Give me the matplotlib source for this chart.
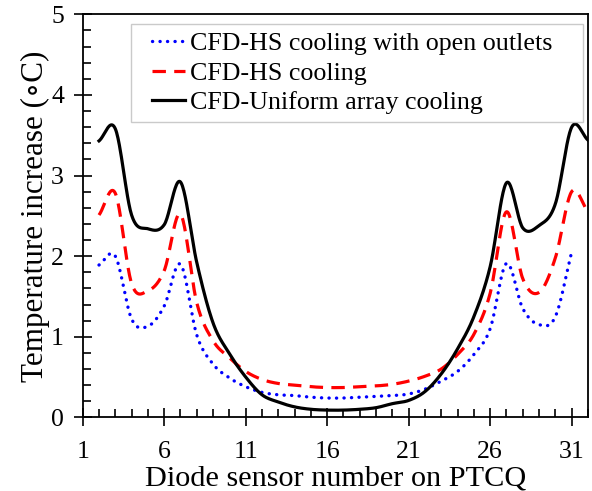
import numpy as np
import matplotlib
matplotlib.use("Agg")
import matplotlib.pyplot as plt
from matplotlib.ticker import MultipleLocator, FixedLocator
from matplotlib.lines import Line2D
from matplotlib.legend_handler import HandlerLine2D

# ---------------- data ----------------
sensors_black = list(range(2, 33))
uniform_cooling = [3.43, 3.58, 2.51, 2.34, 2.39, 2.92, 1.92, 1.17, 0.79, 0.50,
                   0.28, 0.19, 0.13, 0.10, 0.09, 0.09, 0.10, 0.12, 0.17, 0.21,
                   0.32, 0.54, 0.85, 1.25, 1.87, 2.91, 2.35, 2.38, 2.65, 3.60,
                   3.44]

sensors_red = list(range(2, 33))
hs_cooling = [2.51, 2.78, 1.66, 1.57, 1.82, 2.52, 1.42, 0.95, 0.74, 0.57,
              0.47, 0.42, 0.40, 0.38, 0.37, 0.37, 0.38, 0.39, 0.41, 0.45,
              0.51, 0.60, 0.78, 1.03, 1.54, 2.55, 1.72, 1.55, 1.98, 2.80,
              2.55]

sensors_blue = list(range(2, 32))
hs_open_outlets = [1.89, 2.00, 1.22, 1.13, 1.38, 1.90, 1.02, 0.66, 0.49, 0.38,
                   0.31, 0.28, 0.27, 0.25, 0.24, 0.24, 0.25, 0.26, 0.27, 0.29,
                   0.35, 0.45, 0.57, 0.78, 1.10, 1.91, 1.35, 1.15, 1.25, 2.05]

labels = ["CFD-HS cooling with open outlets", "CFD-HS cooling",
          "CFD-Uniform array cooling"]
x_ticks = [1, 6, 11, 16, 21, 26, 31]
y_ticks = [0, 1, 2, 3, 4, 5]


def smooth(x, y, n=24):
    """Excel-like smoothed line (Catmull-Rom through the data points)."""
    x = np.asarray(x, float)
    y = np.asarray(y, float)
    xp = np.concatenate([[2 * x[0] - x[1]], x, [2 * x[-1] - x[-2]]])
    yp = np.concatenate([[2 * y[0] - y[1]], y, [2 * y[-1] - y[-2]]])
    xs, ys = [], []
    t = np.linspace(0, 1, n, endpoint=False)
    h00 = 2 * t**3 - 3 * t**2 + 1
    h10 = t**3 - 2 * t**2 + t
    h01 = -2 * t**3 + 3 * t**2
    h11 = t**3 - t**2
    for i in range(len(x) - 1):
        for src, dst in ((xp, xs), (yp, ys)):
            p0, p1, p2, p3 = src[i], src[i + 1], src[i + 2], src[i + 3]
            m1 = (p2 - p0) / 2
            m2 = (p3 - p1) / 2
            dst.extend(h00 * p1 + h10 * m1 + h01 * p2 + h11 * m2)
    xs.append(x[-1])
    ys.append(y[-1])
    return np.array(xs), np.array(ys)


plt.rcParams['font.family'] = ['Liberation Serif', 'DejaVu Serif']

fig = plt.figure(figsize=(5.92, 4.91), dpi=100)
ax = fig.add_axes([0.1397, 0.150, 0.8535, 0.8208])

bx, by = smooth(sensors_blue, hs_open_outlets)
rx, ry = smooth(sensors_red, hs_cooling)
kx, ky = smooth(sensors_black, uniform_cooling)

ax.plot(bx, by, color='#0000FF', lw=2.4, linestyle=(0, (0.05, 2.2)),
        dash_capstyle='round', label=labels[0])
ax.plot(rx, ry, color='#FF0000', lw=2.3, linestyle=(0, (4.2, 2.6)),
        dash_capstyle='butt', label=labels[1])
ax.plot(kx, ky, color='black', lw=2.3, label=labels[2])

ax.set_xlim(1, 32)
ax.set_ylim(0, 5)
ax.xaxis.set_major_locator(FixedLocator(x_ticks))
ax.xaxis.set_minor_locator(MultipleLocator(1))
ax.yaxis.set_major_locator(FixedLocator(y_ticks))
ax.yaxis.set_minor_locator(MultipleLocator(0.2))
ax.set_xticklabels([str(v) for v in x_ticks])
ax.set_yticklabels([str(v) for v in y_ticks])

ax.tick_params(which='major', direction='inout', length=13, width=1.2,
               labelsize=18.5, top=False, right=False)
ax.tick_params(axis='x', which='major', pad=10.5)
ax.tick_params(axis='y', which='major', pad=7)
ax.tick_params(which='minor', direction='in', length=6, width=1.2,
               top=False, right=False)
for s in ax.spines.values():
    s.set_linewidth(1.3)

ax.set_xlabel("Diode sensor number on PTCQ", fontsize=21.8, labelpad=1.5)
ax.set_ylabel("Temperature increase (\u2218C)", fontsize=22.4, labelpad=1,
              family=['Liberation Serif', 'DejaVu Serif'])

leg = ax.legend(loc='upper left', bbox_to_anchor=(0.0956, 0.0, 0.8944, 0.976),
                mode='expand', borderaxespad=0, fontsize=18.7, frameon=True,
                fancybox=False, handlelength=1.78, handletextpad=0.2,
                labelspacing=0.25, borderpad=0.3,
                handler_map={Line2D: HandlerLine2D(xpad=0.5)})
leg.get_frame().set_edgecolor('#bdbdbd')
leg.get_frame().set_linewidth(1.0)

fig.savefig("out.png", dpi=100)
